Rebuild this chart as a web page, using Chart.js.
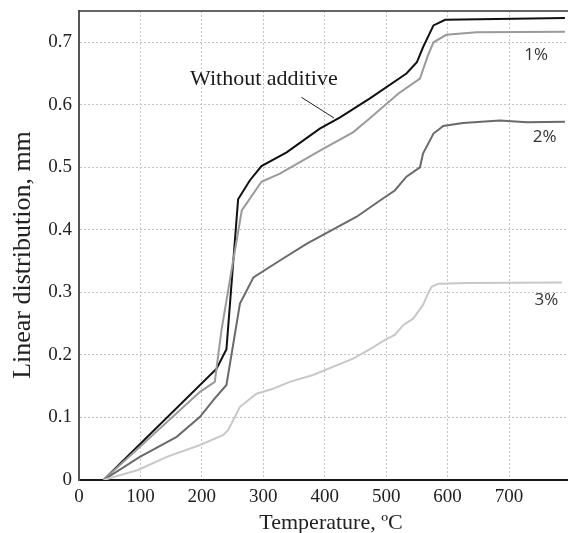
<!DOCTYPE html>
<html lang="en">
<head>
    <meta charset="UTF-8">
    <title>Linear distribution vs temperature</title>
    <script src="https://cdn.jsdelivr.net/npm/chart.js@4.4.1/dist/chart.umd.min.js"></script>
    <style>
        html, body { margin: 0; padding: 0; background: #fff; }
        #wrap { width: 568px; height: 533px; position: relative; }
    </style>
</head>
<body>
    <div id="wrap"><canvas id="chart"></canvas></div>

    <script>
        // Temperature (ºC) / linear distribution (mm) pairs
        const baseTemp = [40, 224, 240, 259, 278, 297, 338, 392, 425, 473, 533, 550, 560, 577, 596, 791];
        const baseLen  = [0, 0.178, 0.209, 0.449, 0.479, 0.502, 0.524, 0.562, 0.580, 0.610, 0.650, 0.668, 0.692, 0.727, 0.736, 0.739];

        const pct1Temp = [40, 197, 221, 232, 251, 265, 297, 327, 398, 446, 473, 520, 555, 568, 577, 598, 647, 791];
        const pct1Len  = [0, 0.141, 0.157, 0.240, 0.351, 0.431, 0.477, 0.490, 0.530, 0.556, 0.578, 0.618, 0.642, 0.679, 0.700, 0.712, 0.716, 0.717];

        const pct2Temp = [40, 99, 159, 197, 219, 240, 262, 284, 327, 371, 452, 490, 514, 533, 555, 560, 577, 593, 625, 685, 729, 791];
        const pct2Len  = [0, 0.037, 0.069, 0.101, 0.128, 0.152, 0.282, 0.324, 0.351, 0.378, 0.421, 0.447, 0.463, 0.485, 0.500, 0.522, 0.554, 0.566, 0.571, 0.575, 0.572, 0.573];

        const pct3Temp = [40, 96, 143, 197, 235, 243, 262, 289, 316, 343, 381, 446, 473, 498, 514, 528, 544, 560, 568, 574, 585, 632, 786];
        const pct3Len  = [0, 0.016, 0.037, 0.056, 0.072, 0.080, 0.117, 0.138, 0.146, 0.157, 0.168, 0.194, 0.209, 0.224, 0.232, 0.248, 0.258, 0.280, 0.298, 0.309, 0.314, 0.315, 0.316];

        const xTicks = [0, 100, 200, 300, 400, 500, 600, 700];
        const yTicks = [0, 0.1, 0.2, 0.3, 0.4, 0.5, 0.6, 0.7];

        // curve labels: [text, temp, len] (text baseline)
        const curveLabels = [
            ['1%', 744, 0.671],
            ['2%', 758, 0.540],
            ['3%', 761, 0.280]
        ];

        function toPoints(xs, ys) {
            return xs.map((x, i) => ({ x: x, y: ys[i] }));
        }

        function series(label, xs, ys, color) {
            return {
                label: label,
                data: toPoints(xs, ys),
                borderColor: color,
                borderWidth: 2,
                pointRadius: 0,
                tension: 0,
                fill: false
            };
        }

        const annotations = {
            id: 'annotations',
            afterDatasetsDraw(chart) {
                const { ctx, chartArea, scales: { x, y } } = chart;
                ctx.save();

                // top frame line
                ctx.strokeStyle = '#333';
                ctx.lineWidth = 1.5;
                ctx.beginPath();
                ctx.moveTo(chartArea.left, chartArea.top);
                ctx.lineTo(chartArea.right, chartArea.top);
                ctx.stroke();

                ctx.fillStyle = '#1a1a1a';
                ctx.textBaseline = 'alphabetic';
                ctx.textAlign = 'center';
                ctx.font = '22px "Liberation Serif"';
                ctx.fillText('Without additive', x.getPixelForValue(301), y.getPixelForValue(0.632));

                // leader line to the black curve
                ctx.strokeStyle = '#222';
                ctx.lineWidth = 1;
                ctx.beginPath();
                ctx.moveTo(x.getPixelForValue(362), y.getPixelForValue(0.612));
                ctx.lineTo(x.getPixelForValue(415), y.getPixelForValue(0.579));
                ctx.stroke();

                ctx.font = '17px "Open Sans"';
                ctx.fillStyle = '#333';
                curveLabels.forEach(([t, tx, ty]) => {
                    ctx.fillText(t, x.getPixelForValue(tx), y.getPixelForValue(ty));
                });

                // axis titles
                ctx.fillStyle = '#222';
                ctx.font = '22px "Liberation Serif"';
                ctx.fillText('Temperature, ºC', 331, 529);

                ctx.save();
                ctx.translate(30, 255);
                ctx.rotate(-Math.PI / 2);
                ctx.font = '26px "Liberation Serif"';
                ctx.fillText('Linear distribution, mm', 0, 0);
                ctx.restore();

                ctx.restore();
            }
        };

        const gridStyle = {
            color: '#c4c4c4',
            lineWidth: 1,
            drawTicks: false
        };

        new Chart(document.getElementById('chart'), {
            type: 'line',
            data: {
                datasets: [
                    series('3%', pct3Temp, pct3Len, '#c8c8c8'),
                    series('2%', pct2Temp, pct2Len, '#6a6a6a'),
                    series('1%', pct1Temp, pct1Len, '#9a9a9a'),
                    series('Without additive', baseTemp, baseLen, '#111111')
                ]
            },
            options: {
                responsive: true,
                maintainAspectRatio: false,
                animation: false,
                layout: { padding: { top: 11, right: 0, left: 0, bottom: 0 } },
                plugins: {
                    legend: { display: false },
                    tooltip: { enabled: false }
                },
                scales: {
                    x: {
                        type: 'linear',
                        min: 0,
                        max: 796,
                        afterBuildTicks(scale) { scale.ticks = xTicks.map(v => ({ value: v })); },
                        afterFit(scale) {
                            scale.height = 53;
                            scale.paddingLeft = 0;
                            scale.paddingRight = 0;
                        },
                        ticks: {
                            autoSkip: false,
                            padding: 6,
                            color: '#222',
                            font: { family: 'Liberation Serif', size: 19 },
                            maxRotation: 0
                        },
                        grid: gridStyle,
                        border: { display: true, color: '#1a1a1a', width: 2, dash: [2, 2] }
                    },
                    y: {
                        min: 0,
                        max: 0.75,
                        afterBuildTicks(scale) { scale.ticks = yTicks.map(v => ({ value: v })); },
                        afterFit(scale) {
                            scale.width = 79;
                            scale.paddingTop = 0;
                            scale.paddingBottom = 0;
                        },
                        ticks: {
                            autoSkip: false,
                            padding: 7,
                            color: '#222',
                            font: { family: 'Liberation Serif', size: 19 },
                            callback: v => v === 0 ? '0' : v.toFixed(1)
                        },
                        grid: gridStyle,
                        border: { display: true, color: '#555', width: 2, dash: [2, 2] }
                    }
                }
            },
            plugins: [annotations]
        });
    </script>
</body>
</html>
